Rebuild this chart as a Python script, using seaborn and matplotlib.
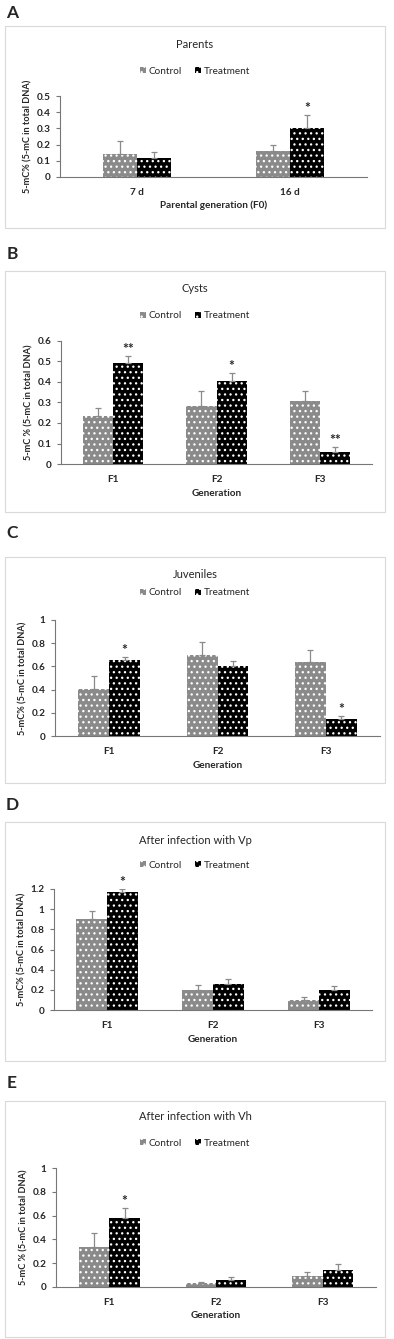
import numpy as np
import pandas as pd
import matplotlib
matplotlib.use('Agg')
import matplotlib.pyplot as plt
from matplotlib.patches import Rectangle
import seaborn as sns

#%% data
groups = ['Control', 'Treatment']

a_cats = ['7 d', '16 d']
a_ctrl = [0.14, 0.163]
a_ctrl_err = [0.085, 0.032]
a_trt = [0.115, 0.30]
a_trt_err = [0.037, 0.085]
a_sig = ['', '*']

gen_cats = ['F1', 'F2', 'F3']

b_ctrl = [0.233, 0.285, 0.308]
b_ctrl_err = [0.039, 0.07, 0.047]
b_trt = [0.493, 0.405, 0.058]
b_trt_err = [0.032, 0.038, 0.024]
b_sig = ['**', '*', '**']

c_ctrl = [0.405, 0.70, 0.635]
c_ctrl_err = [0.11, 0.11, 0.11]
c_trt = [0.655, 0.60, 0.145]
c_trt_err = [0.025, 0.045, 0.03]
c_sig = ['*', '', '*']

d_ctrl = [0.90, 0.195, 0.095]
d_ctrl_err = [0.08, 0.05, 0.035]
d_trt = [1.17, 0.26, 0.195]
d_trt_err = [0.03, 0.05, 0.045]
d_sig = ['*', '', '']

e_ctrl = [0.34, 0.03, 0.095]
e_ctrl_err = [0.11, 0.015, 0.035]
e_trt = [0.58, 0.055, 0.145]
e_trt_err = [0.085, 0.025, 0.045]
e_sig = ['*', '', '']

titles = ['Parents', 'Cysts', 'Juveniles', 'After infection with Vp', 'After infection with Vh']
letters = ['A', 'B', 'C', 'D', 'E']
ylabels = ['5-mC% (5-mC in total DNA)', '5-mC % (5-mC in total DNA)', '5-mC% (5-mC in total DNA)',
           '5-mC% (5-mC in total DNA)', '5-mC % (5-mC in total DNA)']
xlabels = ['Parental generation (F0)', 'Generation', 'Generation', 'Generation', 'Generation']
yticks = [np.arange(0, 0.51, 0.1), np.arange(0, 0.61, 0.1), np.arange(0, 1.01, 0.2),
          np.arange(0, 1.21, 0.2), np.arange(0, 1.01, 0.2)]

panels = [(a_cats, a_ctrl, a_ctrl_err, a_trt, a_trt_err, a_sig),
          (gen_cats, b_ctrl, b_ctrl_err, b_trt, b_trt_err, b_sig),
          (gen_cats, c_ctrl, c_ctrl_err, c_trt, c_trt_err, c_sig),
          (gen_cats, d_ctrl, d_ctrl_err, d_trt, d_trt_err, d_sig),
          (gen_cats, e_ctrl, e_ctrl_err, e_trt, e_trt_err, e_sig)]

#%% layout (pixels of the 394x1339 figure)
W, H = 394, 1339
# axes: left, right, top, bottom
axPx = [(60, 367, 96, 177), (61, 372, 341, 464), (55, 380, 620, 736),
        (54, 372, 889, 1010), (56, 376, 1168, 1287)]
# chart-area boxes: top, bottom
boxPx = [(26, 228), (271, 512), (557, 783), (822, 1061), (1101, 1337)]
titleY = [45, 289, 574, 840, 1117]
legendY = [71, 316, 593, 865, 1143]
xlabelY = [205, 493, 766, 1040, 1316]
letterY = [13, 254, 533, 805, 1083]
barWidth = [0.44, 0.58, 0.57, 0.58, 0.57]

sns.set_style('white')
plt.rcParams['font.family'] = ['Lato', 'DejaVu Sans']
plt.rcParams['hatch.linewidth'] = 0.9

fig = plt.figure(figsize=(W/100, H/100), dpi=100)
gray = '#8a8a8a'
colors = {'Control': gray, 'Treatment': '#000000'}

for p, (cats, ctrl, ctrlErr, trt, trtErr, sig) in enumerate(panels):
    bt, bb = boxPx[p]
    fig.patches.append(Rectangle((5/W, 1-bb/H), 380/W, (bb-bt)/H, transform=fig.transFigure,
                                 fill=False, edgecolor='#d9d9d9', linewidth=0.8))
    fig.text(12/W, 1-letterY[p]/H, letters[p], fontsize=12.5, fontweight='bold', ha='center', va='center')
    fig.text(195/W, 1-titleY[p]/H, titles[p], fontsize=8, ha='center', va='center')

    l, r, t, b = axPx[p]
    ax = fig.add_axes([l/W, 1-b/H, (r-l)/W, (b-t)/H])
    df = pd.DataFrame({'cat': list(cats)*2,
                       'group': ['Control']*len(cats) + ['Treatment']*len(cats),
                       'value': list(ctrl) + list(trt)})
    sns.barplot(data=df, x='cat', y='value', hue='group', hue_order=groups, palette=colors,
                width=barWidth[p], errorbar=None, saturation=1, legend=False, ax=ax)
    barConts = list(ax.containers[:2])
    errs = [ctrlErr, trtErr]
    for g, cont in enumerate(barConts):
        for k, bar in enumerate(cont):
            bar.set_hatch('...')
            bar.set_edgecolor('white')
            bar.set_linewidth(0)
            xc = bar.get_x() + bar.get_width()/2
            h = bar.get_height()
            ax.errorbar(xc, h, yerr=[[0], [errs[g][k]]], fmt='none', ecolor=gray,
                        elinewidth=0.9, capsize=2.2, capthick=0.9, zorder=5)
            if g == 1 and sig[k]:
                ax.annotate(sig[k], (xc, h + errs[g][k]), xytext=(0, 5), textcoords='offset points',
                            ha='center', va='center', fontsize=10, fontweight='bold')
    ax.set_ylim(0, yticks[p][-1])
    ax.set_xlim(-0.5, len(cats)-0.5)
    ax.set_yticks(yticks[p])
    ax.set_yticklabels(['{:g}'.format(round(v, 1)) for v in yticks[p]], fontsize=7.2, fontweight='bold')
    ax.set_xticks(range(len(cats)))
    ax.set_xticklabels(cats, fontsize=7.2, fontweight='bold')
    ax.set_xticks(np.arange(-0.5, len(cats), 1), minor=True)
    ax.tick_params(axis='x', which='major', length=0, pad=8)
    ax.tick_params(axis='x', which='minor', length=4, direction='out', color='#777777', width=0.8)
    ax.tick_params(axis='y', length=3, direction='out', color='#777777', width=0.8, pad=4, left=True)
    sns.despine(ax=ax)
    for s in ['left', 'bottom']:
        ax.spines[s].set_color('#777777')
        ax.spines[s].set_linewidth(0.8)
    ax.set_xlabel('')
    ax.set_ylabel(ylabels[p], fontsize=6.6, fontweight='bold', labelpad=3)
    fig.text((l+r)/2/W, 1-xlabelY[p]/H, xlabels[p], fontsize=7.2, fontweight='bold', ha='center', va='center')
    ax.legend(handles=[barConts[0][0], barConts[1][0]], labels=groups, loc='center',
              bbox_to_anchor=(195/W, 1-legendY[p]/H), bbox_transform=fig.transFigure, ncol=2,
              frameon=False, fontsize=7.2, handlelength=0.6, handleheight=0.6, handletextpad=0.3,
              columnspacing=1.3)

fig.savefig('out.png', dpi=100)
